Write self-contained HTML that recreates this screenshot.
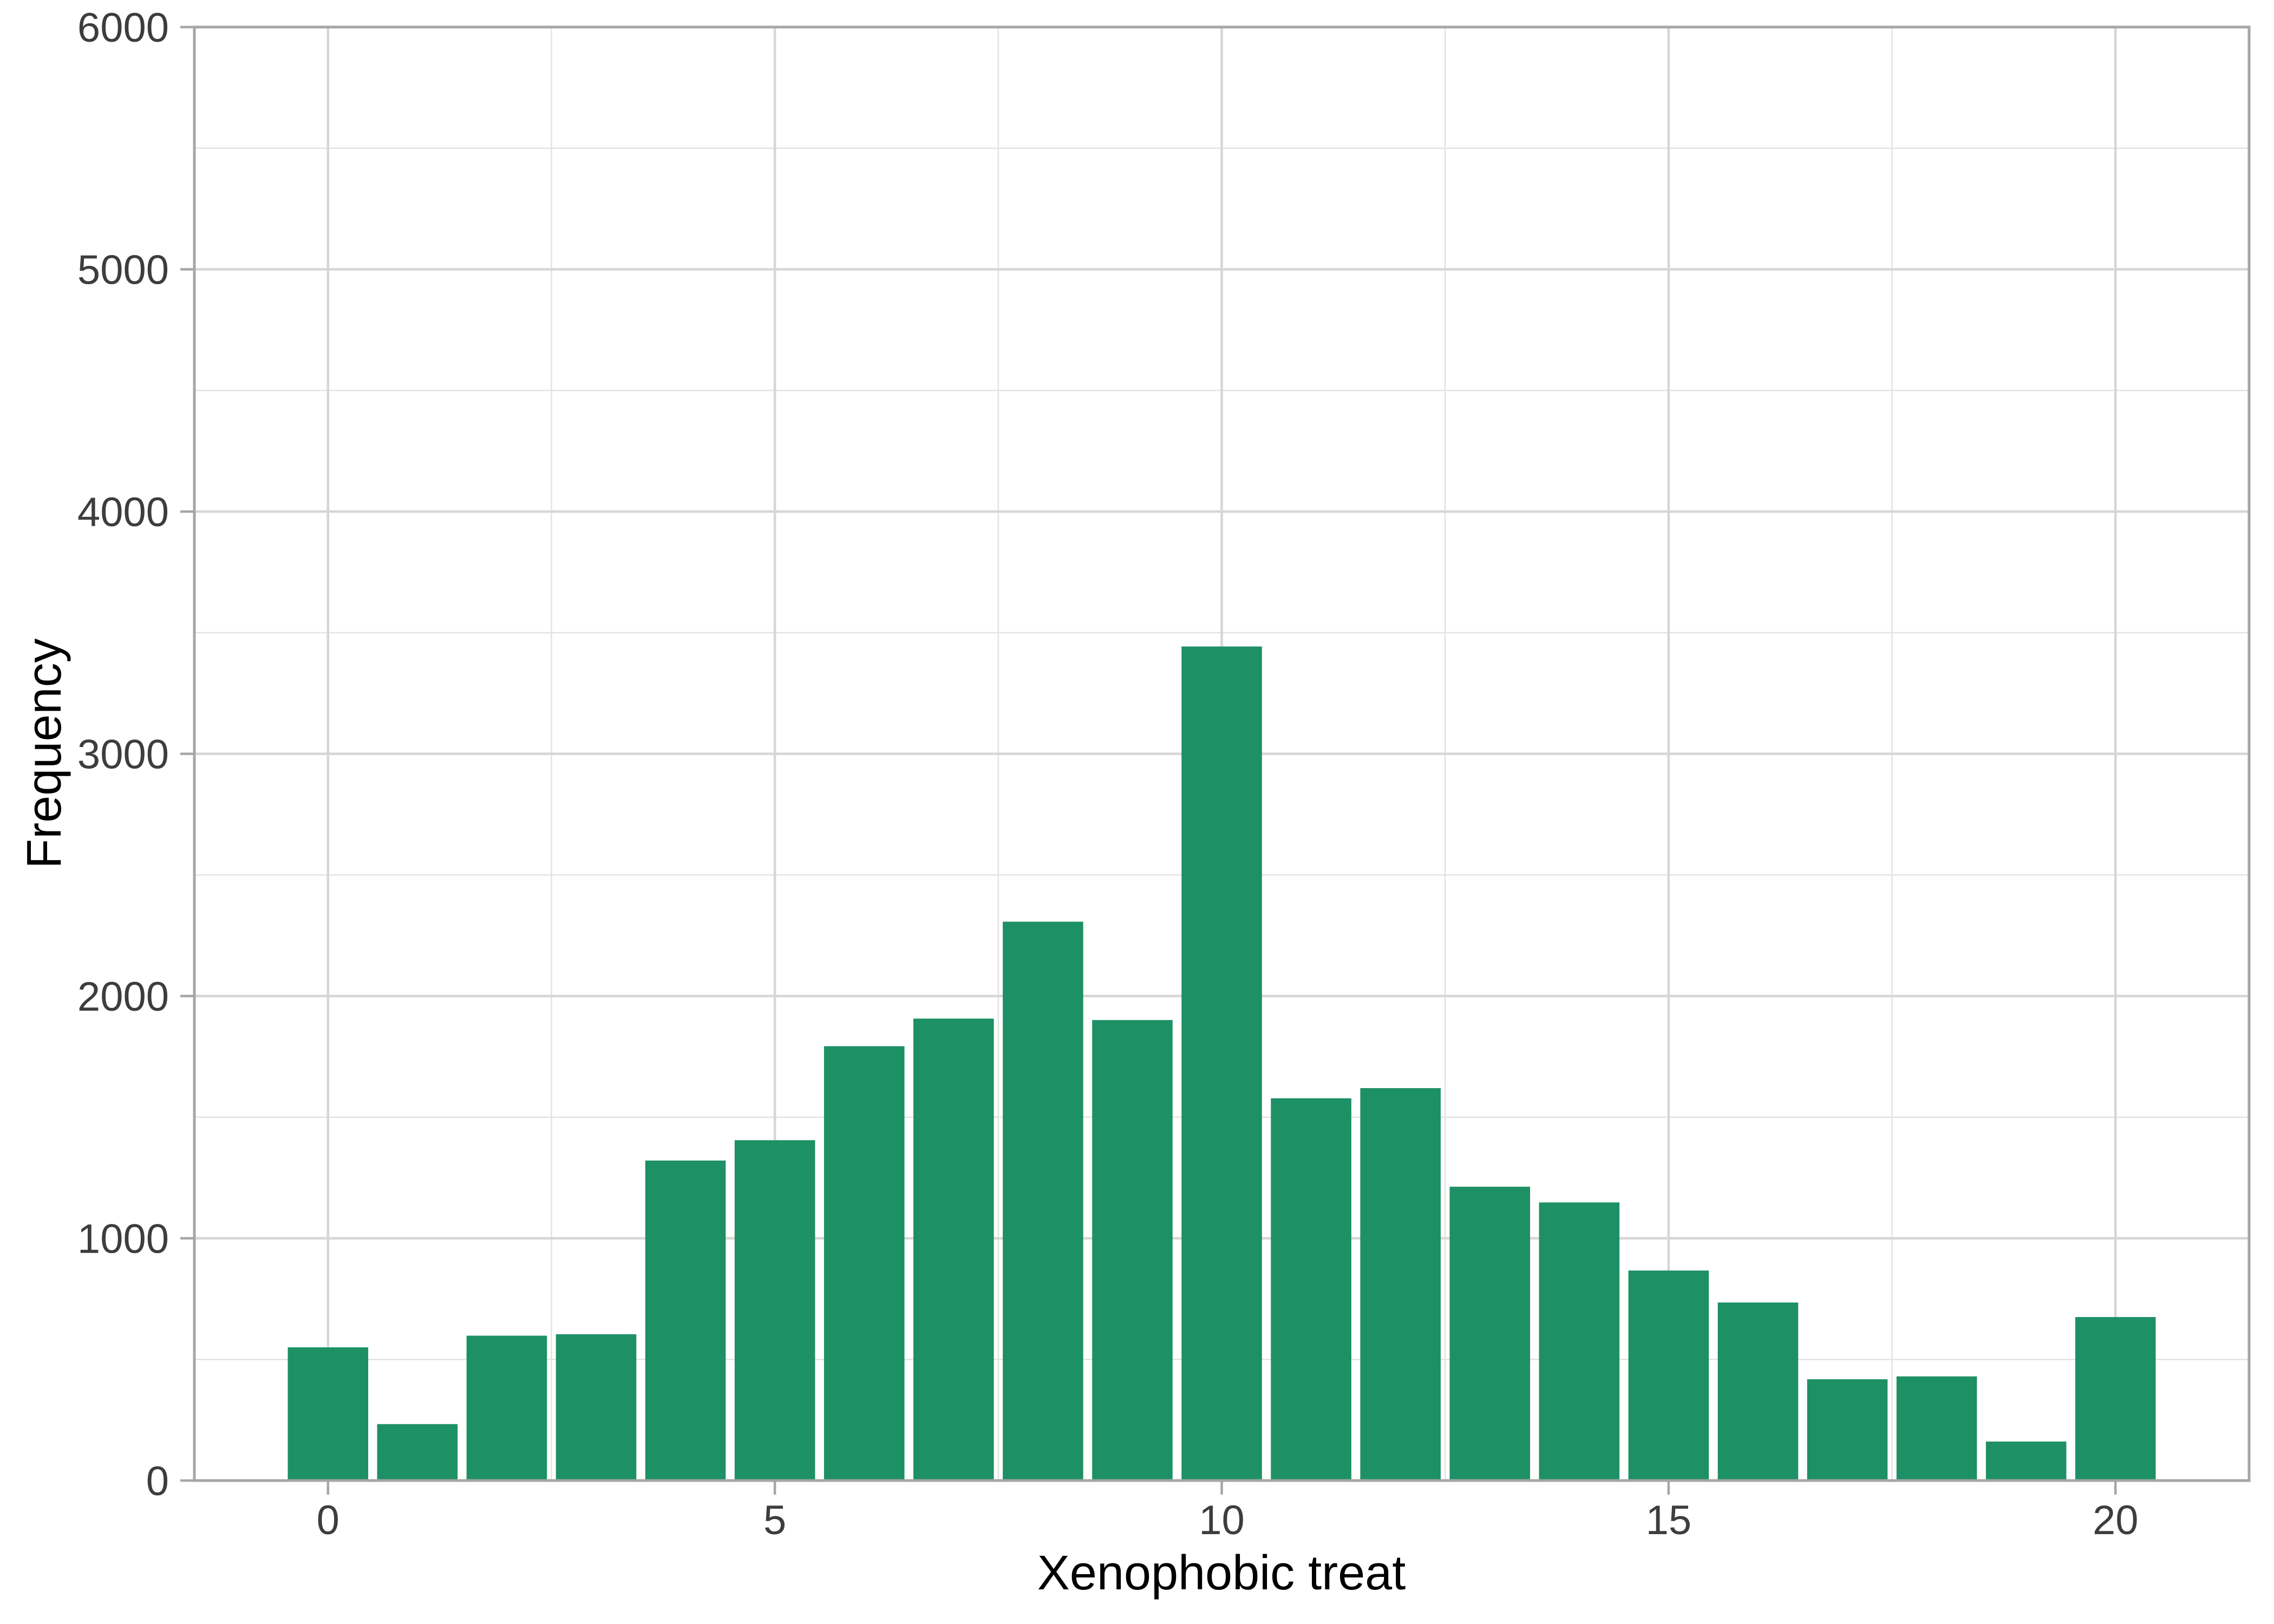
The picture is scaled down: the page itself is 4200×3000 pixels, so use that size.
<!DOCTYPE html>
<html><head><meta charset="utf-8"><style>
html,body{margin:0;padding:0;background:#fff;}
svg{display:block;font-family:"Liberation Sans",Arial,sans-serif;}
</style></head><body>
<svg id="chart" width="4200" height="3000" viewBox="0 0 4200 3000" xmlns="http://www.w3.org/2000/svg">
<rect x="0" y="0" width="4200" height="3000" fill="#ffffff"/>
<g id="grid"></g>
<g id="bars"></g>
<rect x="359" y="50" width="3795" height="2685" fill="none" stroke="#a6a6a6" stroke-width="5"/>
<g id="axes"></g>
<text x="2256" y="2936" font-size="90" text-anchor="middle" fill="#000">Xenophobic treat</text>
<text x="0" y="0" font-size="90" text-anchor="middle" fill="#000" transform="translate(112,1392) rotate(-90)">Frequency</text>
</svg>
<script>
const categories = [0,1,2,3,4,5,6,7,8,9,10,11,12,13,14,15,16,17,18,19,20];
const counts = [550,233,598,604,1321,1405,1793,1907,2307,1901,3443,1578,1620,1213,1148,867,735,418,430,161,675];
const xTicks = [0,5,10,15,20];
const yTicks = [0,1000,2000,3000,4000,5000,6000];
const yMinor = [500,1500,2500,3500,4500,5500];
const xMinor = [2.5,7.5,12.5,17.5];

const NS = "http://www.w3.org/2000/svg";
const L = 359, R = 4154, T = 50, B = 2735;
const xMin = -1.495, xMax = 21.495, yMax = 6000;
function xs(v){ return L + (v - xMin) / (xMax - xMin) * (R - L); }
function ys(v){ return B - v / yMax * (B - T); }
function mk(tag, attrs, parent){
  const e = document.createElementNS(NS, tag);
  for (const k in attrs) e.setAttribute(k, attrs[k]);
  parent.appendChild(e);
  return e;
}
const grid = document.getElementById('grid');
const bars = document.getElementById('bars');
const axes = document.getElementById('axes');

yMinor.forEach(v => {
  const l = mk('line', {x1:L, x2:R, y1:ys(v), y2:ys(v), stroke:'#e3e3e3', 'stroke-width':2.5}, grid);
  
  
});
xMinor.forEach(v => {
  const l = mk('line', {x1:xs(v), x2:xs(v), y1:T, y2:B, stroke:'#e3e3e3', 'stroke-width':2.5}, grid);
  
  
});
yTicks.forEach(v => {
  const l = mk('line', {x1:L, x2:R, y1:ys(v), y2:ys(v), stroke:'#d6d6d6', 'stroke-width':4.5}, grid);
  
  
});
xTicks.forEach(v => {
  const l = mk('line', {x1:xs(v), x2:xs(v), y1:T, y2:B, stroke:'#d6d6d6', 'stroke-width':4.5}, grid);
  
  
});

const bw = 0.9;
categories.forEach((c, i) => {
  const x0 = xs(c - bw/2), x1 = xs(c + bw/2);
  const r = mk('rect', {x:x0, y:ys(counts[i]), width:x1 - x0, height:ys(0) - ys(counts[i]), fill:'#1e9066'}, bars);
  
  
});

yTicks.forEach(v => {
  const t = mk('line', {x1:L - 26, x2:L, y1:ys(v), y2:ys(v), stroke:'#a6a6a6', 'stroke-width':4.5}, axes);
  
  
  const tx = mk('text', {x:312, y:ys(v) + 27, 'font-size':76, 'text-anchor':'end', fill:'#3d3d3d'}, axes);
  tx.textContent = String(v);
  
  
});
xTicks.forEach(v => {
  const t = mk('line', {x1:xs(v), x2:xs(v), y1:B, y2:B + 26, stroke:'#a6a6a6', 'stroke-width':4.5}, axes);
  
  
  const tx = mk('text', {x:xs(v), y:2834, 'font-size':76, 'text-anchor':'middle', fill:'#3d3d3d'}, axes);
  tx.textContent = String(v);
  
  
});
</script>
</body></html>
